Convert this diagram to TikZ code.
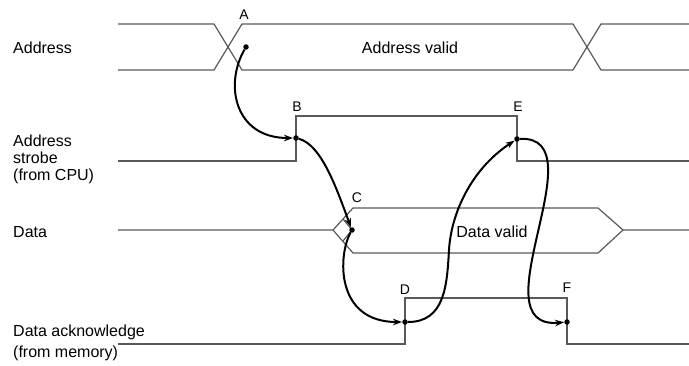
\documentclass[tikz,border=0pt]{standalone}
\usepackage{fontspec}
\setmainfont{Liberation Sans}
\usetikzlibrary{arrows.meta}
\begin{document}
\begin{tikzpicture}[x=1pt,y=-1pt]

  % Definitions
  \tikzstyle{sig} = [line width=1.2pt, draw=black!65, line join=miter]
  \tikzstyle{arrow} = [line width=2pt, -{Stealth[length=9pt,width=6.5pt]}]
  \tikzstyle{dot} = [circle, fill=black, inner sep=0pt, minimum size=5.5pt]
  \tikzstyle{signame} = [inner sep=0pt, align=left, text=black, font=\fontsize{16}{17}\selectfont]
  \tikzstyle{tag} = [inner sep=0pt, text=black, font=\fontsize{14}{14}\selectfont]

  \useasboundingbox (0,0) rectangle (689,365);

  % signal names
  \node (addr) [signame, anchor=base west] at (13,53) {Address};
  \node (strobe) [signame, anchor=north west] at (13,135) {Address\\strobe\\(from CPU)};
  \node (data) [signame, anchor=base west] at (13,237) {Data};
  \node (ack) [signame, anchor=north west, font=\fontsize{16}{21}\selectfont] at (13,325) {Data acknowledge\\(from memory)};

  % address bus
  \draw [sig] (118,24) -- (214,24) -- (242,70) -- (573,70) -- (601,24) -- (689,24);
  \draw [sig] (118,70) -- (214,70) -- (242,24) -- (573,24) -- (601,70) -- (689,70);
  \node (addrvalid) [signame, anchor=base] at (410,53) {Address valid};

  % address strobe
  \draw [sig] (118,161) -- (296,161) -- (296,116) -- (517,116) -- (517,161) -- (689,161);

  % data bus
  \draw [sig] (118,230) -- (333,230) -- (353,208) -- (598,208) -- (623,230) -- (689,230);
  \draw [sig] (333,230) -- (353,253) -- (598,253) -- (623,230);
  \draw [sig] (343,219) -- (352,230) -- (343,241);
  \node (datavalid) [signame, anchor=base] at (492,237) {Data valid};

  % data acknowledge
  \draw [sig] (118,344) -- (405,344) -- (405,298) -- (567,298) -- (567,344) -- (689,344);

  % events
  \node (A) [dot] at (246,47) {};
  \node (B) [dot] at (296,138) {};
  \node (C) [dot] at (352,230) {};
  \node (D) [dot] at (405,322) {};
  \node (E) [dot] at (517,139) {};
  \node (F) [dot] at (567,322) {};

  \node (tA) [tag] at (244,15) {A};
  \node (tB) [tag] at (297,107) {B};
  \node (tC) [tag] at (357,198) {C};
  \node (tD) [tag] at (405,290) {D};
  \node (tE) [tag] at (518,107) {E};
  \node (tF) [tag] at (567,288) {F};

  % handshake sequence
  \draw [arrow] (A) .. controls (224,85) and (235,138) .. (B);
  \draw [arrow] (B) .. controls (322,145) and (337,190) .. (C);
  \draw [arrow] (C) .. controls (338,255) and (335,322) .. (D);
  \draw [arrow] (D) .. controls (445,322) and (447,285) .. (449,250) .. controls (451,215) and (470,170) .. (E);
  \draw [arrow] (E) .. controls (600,135) and (475,330) .. (F);

\end{tikzpicture}
\end{document}
